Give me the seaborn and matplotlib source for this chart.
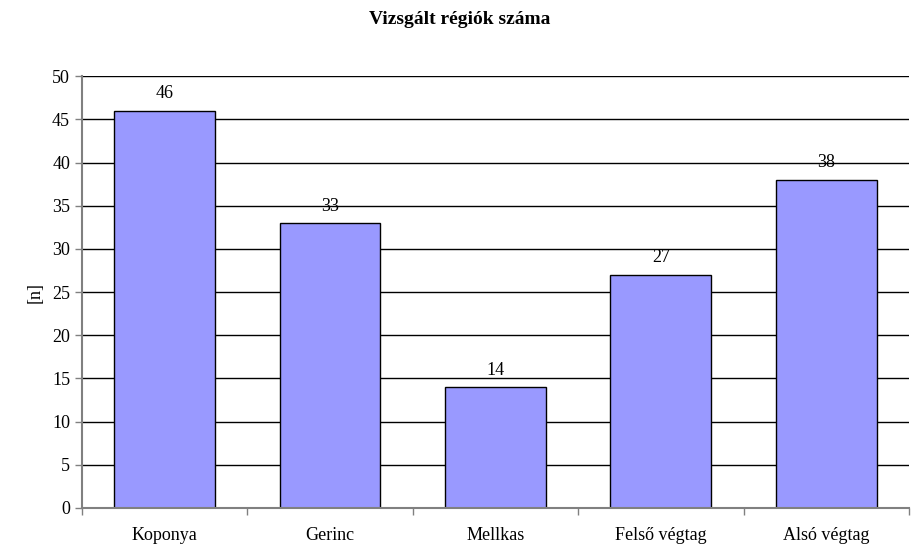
import numpy as np
import pandas as pd
import seaborn as sns
import matplotlib.pyplot as plt

# adatok
regiok = ['Koponya', 'Gerinc', 'Mellkas', 'Felső végtag', 'Alsó végtag']
szam = [46, 33, 14, 27, 38]
y_ticks = list(range(0, 55, 5))

sns.set_style('white')
plt.rcParams['font.family'] = ['Liberation Serif', 'DejaVu Serif']
plt.rcParams['text.color'] = 'black'
plt.rcParams['xtick.color'] = 'black'
plt.rcParams['ytick.color'] = 'black'
plt.rcParams['axes.labelcolor'] = 'black'

df = pd.DataFrame({'regio': regiok, 'n': szam})

fig = plt.figure(figsize=(9.2, 5.6), dpi=100)
ax = fig.add_axes([0.089, 0.093, 0.899, 0.771])

sns.barplot(data=df, x='regio', y='n', color='#9999FF', edgecolor='black',
            linewidth=1, width=0.61, saturation=1, ax=ax, zorder=3)

# feliratok a bárok fölött
for i, v in enumerate(szam):
    ax.annotate(str(v), (i, v), xytext=(0, 6), textcoords='offset points',
                ha='center', va='bottom', fontsize=13)

ax.set_xlim(-0.5, 4.5)
ax.set_ylim(0, 50)
ax.set_yticks(y_ticks)
ax.yaxis.grid(True, color='black', linewidth=1, zorder=0)
ax.set_axisbelow(True)

# kategóriahatárokon lévő osztások
ax.set_xticks(np.arange(-0.5, 5, 1), minor=True)
ax.tick_params(axis='x', which='major', length=0, labelsize=13, pad=14)
ax.tick_params(axis='x', which='minor', length=5, color='#808080', width=1,
               direction='out', bottom=True)
ax.tick_params(axis='y', length=5, color='#808080', width=1, labelsize=13,
               direction='out', left=True, labelcolor='black')

for s in ['top', 'right']:
    ax.spines[s].set_visible(False)
for s in ['left', 'bottom']:
    ax.spines[s].set_color('#808080')
    ax.spines[s].set_linewidth(1.5)
    ax.spines[s].set_zorder(4)

ax.set_xlabel('')
ax.set_ylabel('[n]', fontsize=13, labelpad=6)
fig.suptitle('Vizsgált régiók száma', fontsize=14, fontweight='bold', y=0.98)

plt.savefig('out.png', dpi=100)
